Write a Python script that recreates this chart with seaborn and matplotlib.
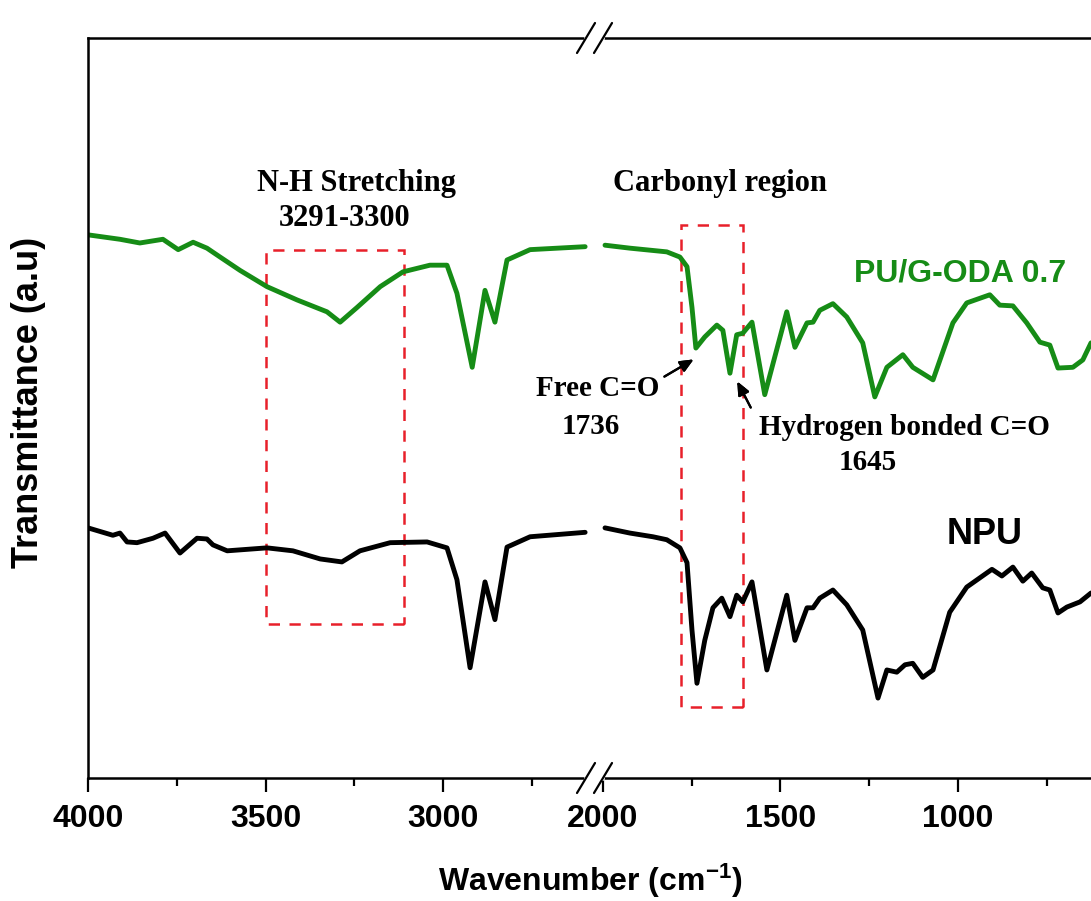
import numpy as np
import pandas as pd
import seaborn as sns
import matplotlib.pyplot as plt
from matplotlib.patches import Rectangle
from matplotlib.lines import Line2D

# FTIR spectra: wavenumber (cm-1) vs transmittance (a.u.)
# high wavenumber segment (4000 - 2600)
wn_left_g = [4000, 3910, 3854, 3789, 3746, 3704, 3665, 3628, 3572, 3496, 3411, 3327, 3290,
             3242, 3177, 3113, 3037, 2989, 2961, 2918, 2882, 2854, 2820, 2755, 2600]
t_left_g = [73.4, 72.8, 72.3, 72.8, 71.4, 72.4, 71.6, 70.4, 68.6, 66.4, 64.6, 63.0, 61.6,
            63.6, 66.4, 68.4, 69.3, 69.3, 65.5, 55.5, 65.9, 61.6, 70.0, 71.4, 71.8]

wn_left_k = [4000, 3930, 3910, 3890, 3862, 3817, 3783, 3741, 3693, 3665, 3648, 3608, 3552, 3496,
             3423, 3346, 3285, 3234, 3149, 3045, 2989, 2961, 2924, 2882, 2854, 2820, 2755, 2600]
t_left_k = [33.8, 32.8, 33.1, 31.9, 31.8, 32.4, 33.1, 30.4, 32.4, 32.3, 31.5, 30.7, 30.9, 31.1,
            30.7, 29.6, 29.2, 30.7, 31.8, 31.9, 31.1, 26.8, 14.9, 26.5, 21.4, 31.2, 32.6, 33.2]

# fingerprint segment (2000 - 625)
wn_right_g = [1994, 1924, 1820, 1783, 1763, 1749, 1738, 1713, 1679, 1662, 1642, 1623, 1606, 1580,
              1544, 1482, 1459, 1425, 1408, 1389, 1352, 1313, 1268, 1234, 1200, 1155, 1127, 1070,
              1014, 975, 910, 882, 845, 806, 769, 741, 718, 676, 648, 625]
t_right_g = [72.0, 71.6, 71.1, 70.4, 69.1, 63.6, 58.1, 59.6, 61.2, 60.5, 54.7, 59.9, 60.1, 61.6,
             51.8, 63.0, 58.2, 61.5, 61.6, 63.2, 64.1, 62.3, 58.8, 51.5, 55.5, 57.2, 55.5, 53.8,
             61.5, 64.2, 65.3, 63.9, 63.8, 61.5, 58.9, 58.5, 55.4, 55.5, 56.5, 58.8]

wn_right_k = [1994, 1924, 1859, 1820, 1783, 1763, 1749, 1735, 1713, 1690, 1665, 1642, 1623, 1606,
              1580, 1538, 1482, 1459, 1425, 1408, 1389, 1352, 1313, 1268, 1225, 1200, 1172, 1149,
              1127, 1099, 1070, 1023, 975, 904, 876, 845, 817, 792, 761, 741, 718, 693, 656, 625]
t_right_k = [33.8, 33.1, 32.6, 32.2, 31.1, 29.1, 20.0, 12.8, 18.6, 23.0, 24.3, 21.8, 24.7, 23.8,
             26.5, 14.6, 24.7, 18.6, 23.0, 23.0, 24.3, 25.4, 23.4, 20.0, 10.8, 14.6, 14.3, 15.3,
             15.5, 13.6, 14.6, 22.4, 25.8, 28.2, 27.3, 28.5, 26.6, 27.7, 25.7, 25.4, 22.3, 23.1,
             23.8, 25.0]

# highlighted regions (wavenumber range, transmittance range)
nh_box = (3500, 3110, 20.8, 71.4)
co_box = (1780, 1606, 9.6, 74.7)

green = '#168c16'
red = '#e8202a'

sns.set_style('white')
plt.rcParams['font.family'] = ['Liberation Sans', 'DejaVu Sans']
plt.rcParams['font.weight'] = 'bold'
plt.rcParams['text.color'] = 'black'
plt.rcParams['xtick.color'] = 'black'
plt.rcParams['axes.labelcolor'] = 'black'
plt.rcParams['mathtext.fontset'] = 'custom'
plt.rcParams['mathtext.bf'] = 'Liberation Sans:bold'
plt.rcParams['mathtext.rm'] = 'Liberation Sans:bold'
plt.rcParams['mathtext.default'] = 'bf'

W, H = 1091, 901
fig = plt.figure(figsize=(W / 100, H / 100), dpi=100)


def px(x, y):
    return (x / W, 1 - y / H)


bottom, top = 778, 38
ax1 = fig.add_axes([88 / W, 1 - bottom / H, (594 - 88) / W, (bottom - top) / H])
ax2 = fig.add_axes([594 / W, 1 - bottom / H, (W - 594) / W, (bottom - top) / H])

left_df = pd.concat([
    pd.DataFrame({'wn': wn_left_g, 't': t_left_g, 'sample': 'PU/G-ODA 0.7'}),
    pd.DataFrame({'wn': wn_left_k, 't': t_left_k, 'sample': 'NPU'}),
])
right_df = pd.concat([
    pd.DataFrame({'wn': wn_right_g, 't': t_right_g, 'sample': 'PU/G-ODA 0.7'}),
    pd.DataFrame({'wn': wn_right_k, 't': t_right_k, 'sample': 'NPU'}),
])
pal = {'PU/G-ODA 0.7': green, 'NPU': 'black'}

for ax, df in [(ax1, left_df), (ax2, right_df)]:
    sns.lineplot(data=df, x='wn', y='t', hue='sample', palette=pal, estimator=None,
                 sort=False, lw=3.5, ax=ax, legend=False)
    ax.set_ylim(0, 100)
    ax.set_yticks([])
    ax.set_xlabel('')
    ax.set_ylabel('')
    for s in ax.spines.values():
        s.set_linewidth(1.8)
        s.set_color('black')
    ax.tick_params(axis='x', which='major', direction='out', length=10, width=1.6,
                   labelsize=23, pad=9, top=False, bottom=True, labelcolor='black')
    ax.tick_params(axis='x', which='minor', direction='out', length=5.5, width=1.6,
                   top=False, bottom=True)

ax1.set_xlim(4000, 2575)
ax1.set_xticks([4000, 3500, 3000])
ax1.set_xticks([3750, 3250, 2750], minor=True)
ax1.spines['right'].set_visible(False)

ax2.set_xlim(2025, 625)
ax2.set_xticks([2000, 1500, 1000])
ax2.set_xticks([1750, 1250, 750], minor=True)
ax2.spines['left'].set_visible(False)
ax2.spines['right'].set_visible(False)

dash = (0, (4.5, 3.8))
for ax, (x0, x1, y0, y1) in [(ax1, nh_box), (ax2, co_box)]:
    ax.add_patch(Rectangle((x1, y0), x0 - x1, y1 - y0, fill=False, ec=red, lw=1.8,
                           ls=dash, zorder=1))

# axis break marks
for yb in (bottom, top):
    fig.add_artist(Line2D([586 / W, 602 / W], [1 - yb / H] * 2, color='white', lw=3.5))
    for xs in (577, 594):
        a = px(xs, yb + 15)
        b = px(xs + 18, yb - 15)
        fig.add_artist(Line2D([a[0], b[0]], [a[1], b[1]], color='black', lw=1.6))

serif = ['Liberation Serif', 'DejaVu Serif']
fig.text(*px(356, 183), 'N-H Stretching', family=serif, size=22, ha='center', va='center')
fig.text(*px(345, 219), '3291-3300', family=serif, size=22, ha='center', va='center')
fig.text(*px(720, 183), 'Carbonyl region', family=serif, size=22, ha='center', va='center')
fig.text(*px(598, 389), 'Free C=O', family=serif, size=21, ha='center', va='center')
fig.text(*px(591, 426), '1736', family=serif, size=21, ha='center', va='center')
fig.text(*px(904, 428), 'Hydrogen bonded C=O', family=serif, size=21, ha='center', va='center')
fig.text(*px(868, 462), '1645', family=serif, size=21, ha='center', va='center')

fig.text(*px(960, 274), 'PU/G-ODA 0.7', color=green, size=23, ha='center', va='center')
fig.text(*px(985, 535), 'NPU', color='black', size=26, ha='center', va='center')

arrow = dict(arrowstyle='-|>,head_length=0.8,head_width=0.35', color='black', lw=1.6)
fig.add_artist(plt.annotate('', xy=px(696, 358), xytext=px(662, 378),
                            xycoords='figure fraction', textcoords='figure fraction',
                            arrowprops=arrow))
fig.add_artist(plt.annotate('', xy=px(736, 379), xytext=px(752, 410),
                            xycoords='figure fraction', textcoords='figure fraction',
                            arrowprops=arrow))

fig.text(*px(29, 402), 'Transmittance (a.u)', size=26, rotation=90, ha='center', va='center')
fig.text(*px(590, 881), r'Wavenumber (cm$^{-1}$)', size=23, ha='center', va='center')

fig.savefig('out.png', dpi=100)
